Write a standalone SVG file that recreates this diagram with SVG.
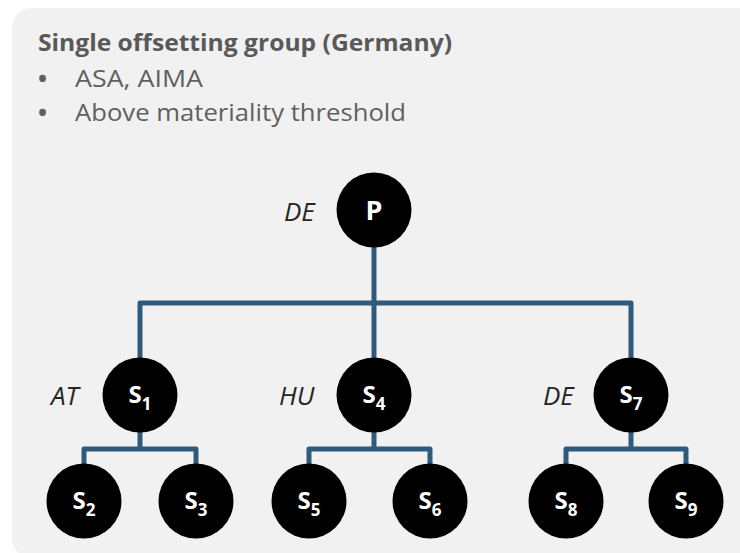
<svg xmlns="http://www.w3.org/2000/svg" width="740" height="553" viewBox="0 0 740 553">
<defs>
<style>
.bg{fill:#f1f1f1}
.title{font-family:"Open Sans","Noto Sans",sans-serif;font-weight:bold;font-size:23.5px;fill:#595959}
.bul{font-family:"Open Sans","Noto Sans",sans-serif;font-size:24.5px;fill:#606060}
.dot{font-family:"Open Sans","Noto Sans",sans-serif;font-size:24px;font-weight:bold;fill:#606060}
.lbl{font-family:"Open Sans","Noto Sans",sans-serif;font-style:italic;font-size:26px;fill:#262626}
.node circle{fill:#000}
.nt{font-family:"Open Sans","Noto Sans",sans-serif;font-weight:bold;font-size:24px;fill:#fff;text-anchor:middle}
.sub{font-size:17px}
.edge{fill:none;stroke:#2f5a7b;stroke-width:5;stroke-linejoin:round;stroke-linecap:butt}
</style>
</defs>
<rect class="bg" x="12" y="8" width="745" height="550" rx="20" ry="20"/>
<g id="header">
<text class="title" x="38" y="51" textLength="414" lengthAdjust="spacingAndGlyphs">Single offsetting group (Germany)</text>
<text class="dot" x="38" y="87">•</text>
<text class="bul" x="75" y="87" textLength="128" lengthAdjust="spacingAndGlyphs">ASA, AIMA</text>
<text class="dot" x="38" y="121">•</text>
<text class="bul" x="75" y="121" textLength="331" lengthAdjust="spacingAndGlyphs">Above materiality threshold</text>
</g>
<g id="connectors">
<path class="edge" d="M374 247 V303"/>
<path class="edge" d="M140 358 V303 H631 V358"/>
<path class="edge" d="M374 303 V358"/>
<path class="edge" d="M140 432 V449"/>
<path class="edge" d="M84 464 V449 H196 V464"/>
<path class="edge" d="M374 432 V449"/>
<path class="edge" d="M309 464 V449 H430 V464"/>
<path class="edge" d="M631 432 V449"/>
<path class="edge" d="M566 464 V449 H686 V464"/>
</g>
<g id="P" class="node"><circle cx="374" cy="210" r="37.5"/><text class="nt" x="374" y="220" style="font-size:27px">P</text></g>
<g id="S1" class="node"><circle cx="140" cy="395" r="37.5"/><text class="nt" x="140" y="403">S<tspan class="sub" dy="7">1</tspan></text></g>
<g id="S2" class="node"><circle cx="84" cy="501" r="37.5"/><text class="nt" x="84" y="509">S<tspan class="sub" dy="7">2</tspan></text></g>
<g id="S3" class="node"><circle cx="196" cy="501" r="37.5"/><text class="nt" x="196" y="509">S<tspan class="sub" dy="7">3</tspan></text></g>
<g id="S4" class="node"><circle cx="374" cy="395" r="37.5"/><text class="nt" x="374" y="403">S<tspan class="sub" dy="7">4</tspan></text></g>
<g id="S5" class="node"><circle cx="309" cy="501" r="37.5"/><text class="nt" x="309" y="509">S<tspan class="sub" dy="7">5</tspan></text></g>
<g id="S6" class="node"><circle cx="430" cy="501" r="37.5"/><text class="nt" x="430" y="509">S<tspan class="sub" dy="7">6</tspan></text></g>
<g id="S7" class="node"><circle cx="631" cy="395" r="37.5"/><text class="nt" x="631" y="403">S<tspan class="sub" dy="7">7</tspan></text></g>
<g id="S8" class="node"><circle cx="566" cy="501" r="37.5"/><text class="nt" x="566" y="509">S<tspan class="sub" dy="7">8</tspan></text></g>
<g id="S9" class="node"><circle cx="686" cy="501" r="37.5"/><text class="nt" x="686" y="509">S<tspan class="sub" dy="7">9</tspan></text></g>
<g id="labels">
<text class="lbl" x="284" y="221">DE</text>
<text class="lbl" x="51" y="405">AT</text>
<text class="lbl" x="279" y="405">HU</text>
<text class="lbl" x="543" y="405">DE</text>
</g>
</svg>
